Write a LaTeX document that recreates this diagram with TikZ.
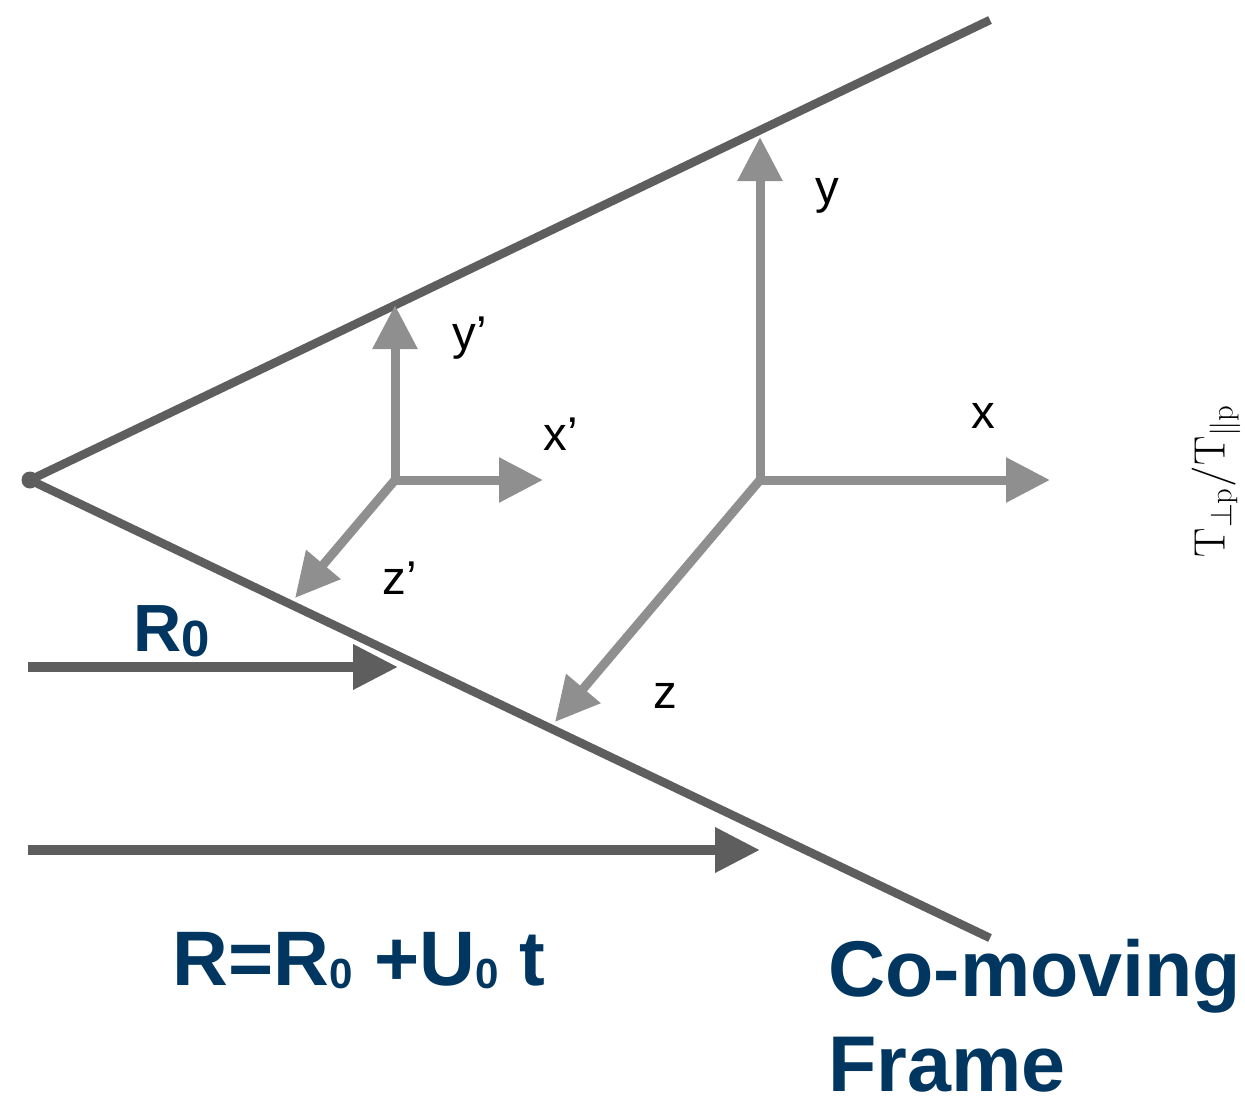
\documentclass[tikz,border=0pt]{standalone}
\usepackage{fix-cm}
\usepackage[no-math]{fontspec}
\setmainfont{Liberation Sans}
\usetikzlibrary{arrows.meta, positioning}
\definecolor{clrCone}{HTML}{5E5E5E}
\definecolor{clrAxis}{HTML}{8F8F8F}
\definecolor{clrTitle}{HTML}{003660}
\newcommand{\lowzero}[2]{\raisebox{#2}{\fontsize{#1}{#1}\selectfont 0}}
\tikzset{
  cone/.style = {draw=clrCone, line width=0.17cm, line join=round},
  apexdot/.style = {circle, fill=clrCone, minimum size=0.34cm, inner sep=0pt},
  axis/.style = {draw=clrAxis, line width=0.18cm,
                 -{Triangle[length=0.88cm, width=0.86cm]}},
  shiftarrow/.style = {draw=clrCone, line width=0.2cm,
                  -{Triangle[length=0.9cm, width=0.86cm]}},
  axlabel/.style = {anchor=base west, inner sep=0pt, font=\fontsize{27}{27}\selectfont},
  title/.style = {anchor=base west, inner sep=0pt, text=clrTitle,
                  font=\fontsize{44}{44}\selectfont\bfseries},
}

\begin{document}
\begin{tikzpicture}[x=0.02cm, y=-0.02cm]
  \useasboundingbox (0,0) rectangle (1245,1100);

  % --- Cone ---
  \node[apexdot] (apex) at (30,480) {};
  \coordinate (upEnd)  at (990,20);
  \coordinate (lowEnd) at (990,938);
  \draw[cone] (upEnd) -- (apex.center) -- (lowEnd);

  % --- Primed frame ---
  \coordinate (Op)    at (395,480);
  \coordinate (ypTip) at (395,305);
  \coordinate (xpTip) at (543,480);
  \coordinate (zpTip) at (295,598);
  \draw[axis] (Op) -- (ypTip);
  \draw[axis] (Op) -- (xpTip);
  \draw[axis] (Op) -- (zpTip);
  \node[axlabel] (ypLbl) at (452,349) {y’};
  \node[axlabel] (xpLbl) at (543,450) {x’};
  \node[axlabel] (zpLbl) at (382,594) {z’};

  % --- Co-moving frame ---
  \coordinate (O)    at (760,480);
  \coordinate (yTip) at (760,137);
  \coordinate (xTip) at (1050,480);
  \coordinate (zTip) at (555,722);
  \draw[axis] (O) -- (yTip);
  \draw[axis] (O) -- (xTip);
  \draw[axis] (O) -- (zTip);
  \node[axlabel] (yLbl) at (815,203) {y};
  \node[axlabel] (xLbl) at (971,428) {x};
  \node[axlabel] (zLbl) at (653,708) {z};

  % --- Shift arrows ---
  \coordinate (rzStart) at (28,667);
  \coordinate (rzTip)   at (398,667);
  \coordinate (rStart)  at (28,850);
  \coordinate (rTip)    at (760,850);
  \draw[shiftarrow] (rzStart) -- (rzTip);
  \draw[shiftarrow] (rStart) -- (rTip);

  % --- Labels ---
  \node[title, font=\fontsize{38}{38}\selectfont\bfseries] (rzLbl) at (133,651)
    {R\lowzero{29}{-3pt}};
  \node[title] (rLbl) at (172,985)
    {R=R\lowzero{24}{-2pt} +U\lowzero{24}{-2pt} t};
  \node[title, font=\fontsize{45}{45}\selectfont\bfseries] (comovLbl) at (828,996) {Co-moving};
  \node[title, font=\fontsize{45}{45}\selectfont\bfseries, text depth=0pt] (frameLbl)
    at (828,1091) {Frame};
  \node[rotate=90, inner sep=0pt, font=\fontsize{25}{25}\selectfont] (ratioLbl)
    at (1216,481) {$\mathrm{T}_{\perp\mathrm{p}}/\mathrm{T}_{\parallel\mathrm{p}}$};
\end{tikzpicture}
\end{document}
